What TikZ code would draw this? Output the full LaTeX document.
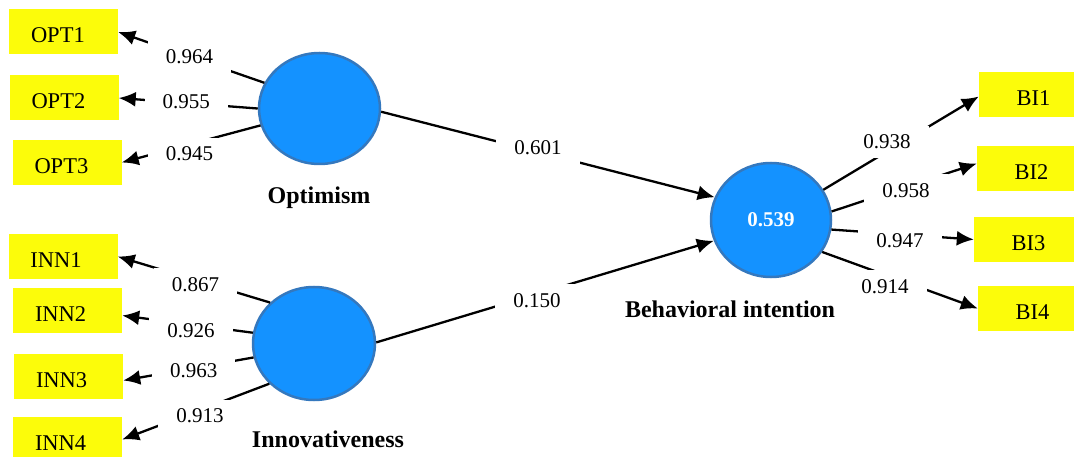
\documentclass[tikz,border=0pt]{standalone}
\usepackage{fontspec}
\setmainfont{Liberation Serif}
\usetikzlibrary{arrows.meta,shapes.geometric}
\definecolor{latentblue}{RGB}{20,146,255}
\definecolor{latentedge}{RGB}{52,120,190}
\definecolor{itemyellow}{RGB}{252,252,10}
\tikzset{
  >={Latex[length=17pt,width=15pt]},
}
\tikzstyle{indicator}=[fill=itemyellow,minimum width=109pt,minimum height=45pt,inner sep=0pt,text height=22pt,text depth=0pt,font=\fontsize{22.5}{27}\selectfont]
\tikzstyle{leftitem}=[indicator,text width=65pt,inner xsep=22pt,align=left]
\tikzstyle{latent}=[ellipse,draw=latentedge,line width=2.5pt,fill=latentblue,inner sep=0pt,text=white,font=\bfseries\fontsize{21}{25}\selectfont]
\tikzstyle{link}=[line width=2.3pt,->]
\tikzstyle{loading}=[fill=white,anchor=base,inner xsep=18pt,inner ysep=9pt,font=\fontsize{21}{25}\selectfont]
\tikzstyle{latentname}=[anchor=base,font=\bfseries\fontsize{24}{29}\selectfont]

\begin{document}
\begin{tikzpicture}[x=1pt,y=-1pt]
        \useasboundingbox (0,0) rectangle (1074,457);
        \node[leftitem] (opt1) at (63.5,32) {OPT1};
        \node[leftitem] (opt2) at (64,98) {OPT2};
        \node[leftitem] (opt3) at (67,162.5) {OPT3};
        \node[leftitem] (inn1) at (63,256.5) {INN1};
        \node[leftitem] (inn2) at (67.5,310.5) {INN2};
        \node[leftitem] (inn3) at (68.5,376.5) {INN3};
        \node[leftitem] (inn4) at (67.5,439.5) {INN4};
        \node[indicator] (bi1) at (1033.5,94.5) {BI1};
        \node[indicator] (bi2) at (1031.5,168.5) {BI2};
        \node[indicator] (bi3) at (1028.5,239.5) {BI3};
        \node[indicator] (bi4) at (1032.5,308.5) {BI4};
        \node[latent,minimum width=121pt,minimum height=111pt] (opt) at (319.5,108.5) {};
        \node[latent,minimum width=122pt,minimum height=113pt] (inn) at (314,343.5) {};
        \node[latent,minimum width=120pt,minimum height=114pt] (bi) at (771,220) {0.539};
        \draw[link] (opt.155) -- (opt1.east);
        \draw[link] (opt.180) -- (opt2.east);
        \draw[link] (opt.196) -- (opt3.east);
        \draw[link] (inn.137) -- (inn1.east);
        \draw[link] (inn.170) -- ([yshift=-5pt]inn2.east);
        \draw[link] (inn.193) -- ([yshift=-4pt]inn3.east);
        \draw[link] (inn.222) -- (inn4.east);
        \draw[link] (opt.357) -- (bi.158);
        \draw[link] (inn.1) -- (bi.200);
        \draw[link] (bi.30) -- ([yshift=-2pt]bi1.west);
        \draw[link] (bi.8) -- ([yshift=5pt]bi2.west);
        \draw[link] (bi.351) -- (bi3.west);
        \draw[link] (bi.328) -- (bi4.west);
        \node[loading] at (189.5,64) {0.964};
        \node[loading] at (186.3,109) {0.955};
        \node[loading] at (189.5,161) {0.945};
        \node[loading] at (195.5,291) {0.867};
        \node[loading] at (191,337.3) {0.926};
        \node[loading] at (193.7,377.7) {0.963};
        \node[loading] at (200,422.7) {0.913};
        \node[loading] at (538,155) {0.601};
        \node[loading] at (537,307.3) {0.150};
        \node[loading] at (887,149) {0.938};
        \node[loading] at (906,197.3) {0.958};
        \node[loading] at (900,247.3) {0.947};
        \node[loading] at (885,293.3) {0.914};
        \node[latentname] at (319,204) {Optimism};
        \node[latentname] at (328,447) {Innovativeness};
        \node[latentname] at (730,317) {Behavioral intention};
      \end{tikzpicture}
\end{document}
